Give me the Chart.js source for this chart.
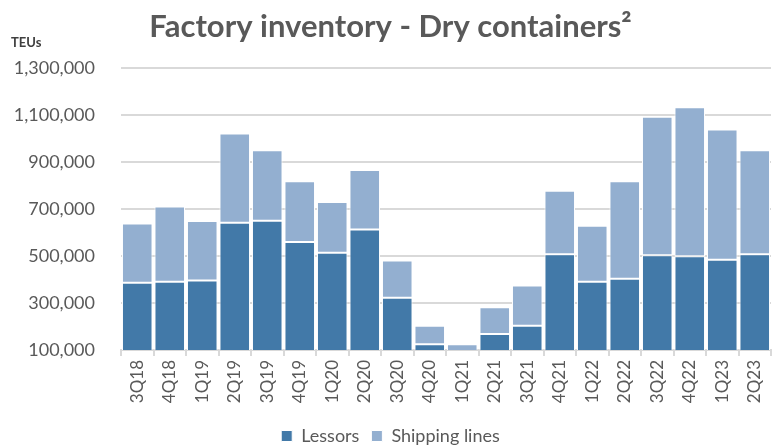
<!DOCTYPE html>
<html>
<head>
<meta charset="utf-8">
<title>Factory inventory - Dry containers</title>
<script src="https://cdn.jsdelivr.net/npm/chart.js@4/dist/chart.umd.min.js"></script>
<style>
  html, body { margin: 0; padding: 0; background: #fff; }
  #wrap { width: 772px; height: 445px; position: relative; }
</style>
</head>
<body>
<div id="wrap"><canvas id="inventoryChart"></canvas></div>
<script>
// Quarters on the x axis
const quarters = ['3Q18', '4Q18', '1Q19', '2Q19', '3Q19', '4Q19', '1Q20', '2Q20', '3Q20', '4Q20',
                  '1Q21', '2Q21', '3Q21', '4Q21', '1Q22', '2Q22', '3Q22', '4Q22', '1Q23', '2Q23'];

// Dry container inventory at factories, TEUs
const lessors = [386000, 391000, 396000, 642000, 650000, 560000, 514000, 613000, 323000, 125000,
                 95000, 168000, 203000, 508000, 391000, 403000, 503000, 499000, 484000, 508000];
const shippingLines = [253000, 320000, 253000, 380000, 301000, 259000, 216000, 253000, 158000, 78000,
                       30000, 114000, 172000, 270000, 238000, 416000, 590000, 635000, 555000, 443000];

// Y axis range
const yMin = 100000;
const yMax = 1300000;
const yStep = 200000;

const gray = '#595959';
const gridGray = '#d9d9d9';
const fontFamily = 'Lato, "Open Sans", sans-serif';

// small "TEUs" unit label above the y axis
const unitLabel = {
    id: 'unitLabel',
    afterDraw(chart) {
        const ctx = chart.ctx;
        ctx.save();
        ctx.font = 'bold 13px ' + fontFamily;
        ctx.fillStyle = '#404040';
        ctx.textAlign = 'left';
        ctx.textBaseline = 'alphabetic';
        ctx.fillText('TEUs', 11, 47);
        ctx.restore();
    }
};

const ctx = document.getElementById('inventoryChart').getContext('2d');
new Chart(ctx, {
    type: 'bar',
    data: {
        labels: quarters,
        datasets: [{
            label: 'Lessors',
            data: lessors,
            backgroundColor: '#4279a8',
            borderColor: '#ffffff',
            borderWidth: 1,
            borderSkipped: false,
            barPercentage: 0.94,
            categoryPercentage: 1
        }, {
            label: 'Shipping lines',
            data: shippingLines,
            backgroundColor: '#93afd0',
            borderColor: '#ffffff',
            borderWidth: 1,
            borderSkipped: false,
            barPercentage: 0.94,
            categoryPercentage: 1
        }]
    },
    plugins: [unitLabel],
    options: {
        responsive: true,
        maintainAspectRatio: false,
        animation: false,
        layout: {
            padding: { left: 10, right: 1, top: 0, bottom: 0 }
        },
        plugins: {
            title: {
                display: true,
                text: 'Factory inventory - Dry containers\u00B2',
                color: gray,
                font: { family: fontFamily, size: 31, weight: 'bold' },
                padding: { top: 8, bottom: 23 }
            },
            legend: {
                display: true,
                position: 'bottom',
                maxHeight: 30,
                labels: {
                    color: gray,
                    font: { family: fontFamily, size: 18 },
                    boxWidth: 11,
                    boxHeight: 11,
                    padding: 12
                }
            },
            tooltip: { enabled: false }
        },
        scales: {
            x: {
                stacked: true,
                grid: {
                    offset: true,
                    drawOnChartArea: false,
                    color: gridGray,
                    lineWidth: 2,
                    tickLength: 6
                },
                border: { color: gridGray, width: 2 },
                ticks: {
                    color: gray,
                    font: { family: fontFamily, size: 17 },
                    minRotation: 90,
                    maxRotation: 90,
                    autoSkip: false,
                    padding: 4
                },
                afterFit: (scale) => {
                    scale.height = 65;
                    scale.paddingLeft = 0;
                    scale.paddingRight = 0;
                }
            },
            y: {
                stacked: true,
                min: yMin,
                max: yMax,
                grid: {
                    color: gridGray,
                    lineWidth: 2,
                    drawTicks: false
                },
                border: { display: false },
                ticks: {
                    stepSize: yStep,
                    color: gray,
                    font: { family: fontFamily, size: 18 },
                    padding: 26,
                    callback: (v) => v.toLocaleString('en-US')
                },
                afterFit: (scale) => { scale.width = 111; }
            }
        }
    }
});
</script>
</body>
</html>
